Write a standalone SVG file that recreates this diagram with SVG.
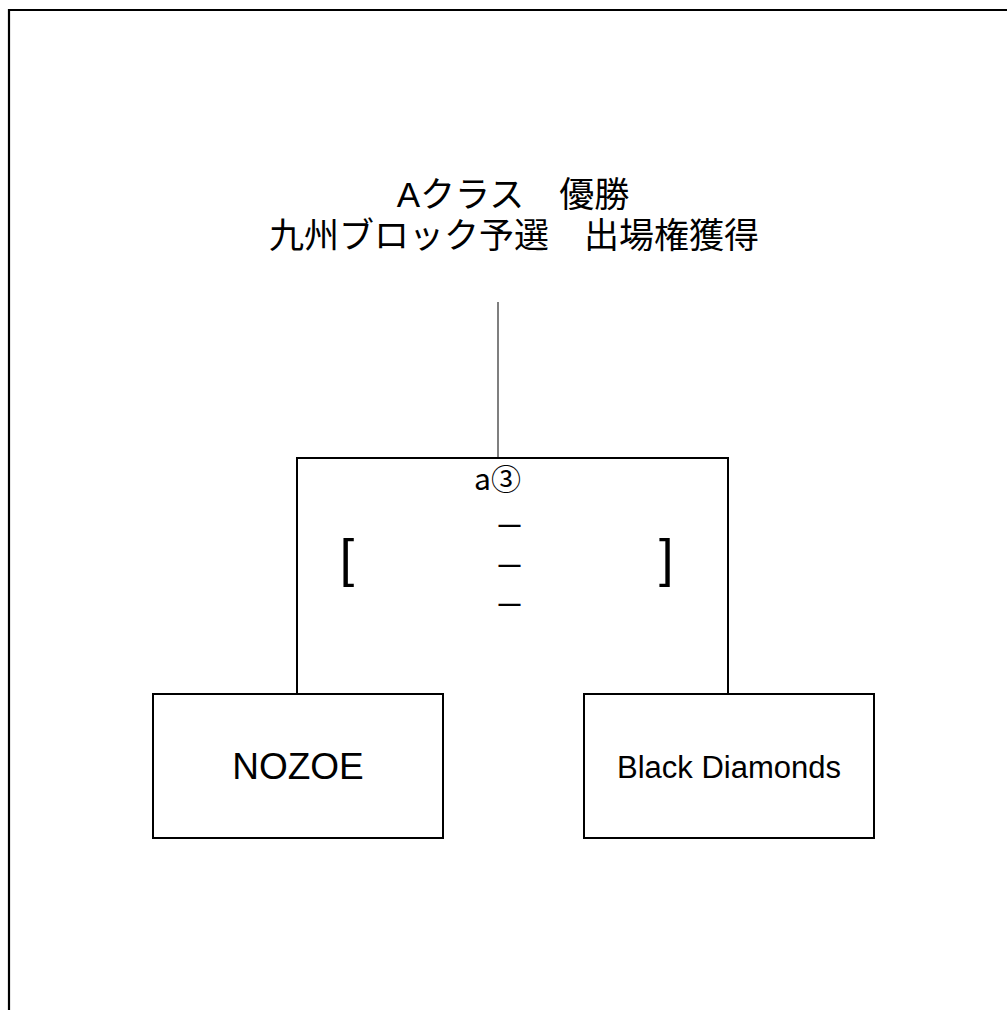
<svg xmlns="http://www.w3.org/2000/svg" width="1007" height="1010" viewBox="0 0 1007 1010">
<style>
.frame{fill:none;stroke:#000;stroke-width:2.2}
.box{fill:#fff;stroke:#000;stroke-width:2}
.conn{fill:none;stroke:#000;stroke-width:2}
.lead{fill:none;stroke:#555;stroke-width:1.5}
.ttl{font-family:"Liberation Sans","Noto Sans CJK JP",sans-serif;fill:#000}
.jp{font-family:"Noto Sans CJK JP","Noto Sans",sans-serif;fill:#000}
.lat{font-family:"Liberation Sans",Arial,sans-serif;fill:#000}
.dash{font-family:"Liberation Sans",Arial,sans-serif;font-weight:bold;fill:#000}
</style>
<rect width="1007" height="1010" fill="#fff"/>
<path class="frame" d="M9,1010 V10 H1007"/>
<g id="title">
<text class="ttl" font-size="35" text-anchor="middle"><tspan x="513" y="207">Aクラス　優勝</tspan><tspan x="514" y="248">九州ブロック予選　出場権獲得</tspan></text>
</g>
<g id="connectors">
<line class="lead" x1="498" y1="302" x2="498" y2="458"/>
<path class="conn" d="M297,694 V458 H728 V696"/>
</g>
<g id="match">
<text class="jp" x="474" y="490" font-size="30">a③</text>
<text class="lat" x="339.7" y="576" font-size="52">[</text>
<text class="lat" x="659" y="576" font-size="52">]</text>
<text class="dash" x="498.5" y="532" font-size="22">—</text>
<text class="dash" x="498.5" y="571.5" font-size="22">—</text>
<text class="dash" x="498.5" y="611" font-size="22">—</text>
</g>
<g id="node-nozoe">
<rect class="box" x="153" y="694" width="290" height="144"/>
<text class="lat" x="298" y="779" font-size="37" text-anchor="middle">NOZOE</text>
</g>
<g id="node-black-diamonds">
<rect class="box" x="584" y="694" width="290" height="144"/>
<text class="lat" x="729" y="777.5" font-size="31" text-anchor="middle">Black Diamonds</text>
</g>
</svg>
